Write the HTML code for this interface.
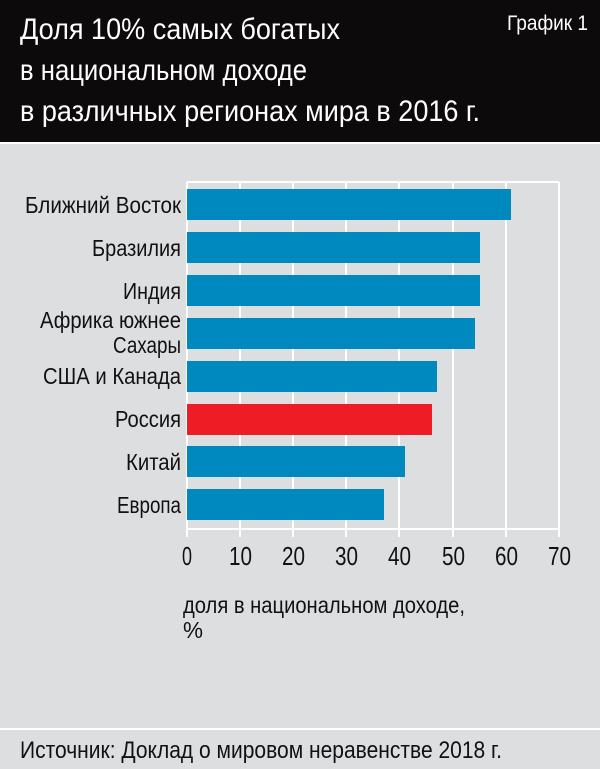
<!DOCTYPE html>
<html><head><meta charset="utf-8"><style>
html,body{margin:0;padding:0;background:#dddee0;}
svg{display:block;}
text{font-family:"Liberation Sans Narrow","Liberation Sans",sans-serif;}
</style></head><body>
<svg width="600" height="769" viewBox="0 0 600 769" xmlns="http://www.w3.org/2000/svg">
<rect x="0" y="0" width="600" height="769" fill="#dddee0"/>
<rect x="0" y="0" width="600" height="142" fill="#0d0a0b"/>
<rect x="0" y="142" width="600" height="2" fill="#ffffff"/>
<g fill="#ffffff" font-size="30">
<text x="20" y="39" textLength="320" lengthAdjust="spacingAndGlyphs">Доля 10% самых богатых</text>
<text x="20" y="80" textLength="287" lengthAdjust="spacingAndGlyphs">в национальном доходе</text>
<text x="20" y="121" textLength="460" lengthAdjust="spacingAndGlyphs">в различных регионах мира в 2016 г.</text>
<text x="507" y="30" font-size="21" textLength="81" lengthAdjust="spacingAndGlyphs">График 1</text>
</g>
<g stroke="#ffffff" stroke-width="2">
<line x1="187" y1="182" x2="559" y2="182"/>
<line x1="187" y1="529" x2="559" y2="529"/>
<line x1="187" y1="182" x2="187" y2="537"/>
<line x1="240" y1="182" x2="240" y2="537"/>
<line x1="293" y1="182" x2="293" y2="537"/>
<line x1="346" y1="182" x2="346" y2="537"/>
<line x1="399" y1="182" x2="399" y2="537"/>
<line x1="453" y1="182" x2="453" y2="537"/>
<line x1="506" y1="182" x2="506" y2="537"/>
<line x1="559" y1="182" x2="559" y2="537"/>
</g>
<g fill="#0089bf">
<rect x="187" y="189" width="324" height="31"/>
<rect x="187" y="232" width="293" height="31"/>
<rect x="187" y="275" width="293" height="31"/>
<rect x="187" y="318" width="288" height="31"/>
<rect x="187" y="361" width="250" height="31"/>
<rect x="187" y="446" width="218" height="31"/>
<rect x="187" y="489" width="197" height="31"/>
</g>
<rect x="187" y="404" width="245" height="31" fill="#ee1c25"/>
<g fill="#111" font-size="23" text-anchor="end">
<text x="181" y="213" textLength="156" lengthAdjust="spacingAndGlyphs">Ближний Восток</text>
<text x="181" y="256" textLength="89" lengthAdjust="spacingAndGlyphs">Бразилия</text>
<text x="181" y="299" textLength="58" lengthAdjust="spacingAndGlyphs">Индия</text>
<text x="181" y="328" textLength="141" lengthAdjust="spacingAndGlyphs">Африка южнее</text>
<text x="181" y="353" textLength="68" lengthAdjust="spacingAndGlyphs">Сахары</text>
<text x="181" y="384" textLength="138" lengthAdjust="spacingAndGlyphs">США и Канада</text>
<text x="181" y="427" textLength="66" lengthAdjust="spacingAndGlyphs">Россия</text>
<text x="181" y="470" textLength="55" lengthAdjust="spacingAndGlyphs">Китай</text>
<text x="181" y="513" textLength="64" lengthAdjust="spacingAndGlyphs">Европа</text>
</g>
<g fill="#111" font-size="26">
<text x="182" y="565" textLength="10" lengthAdjust="spacingAndGlyphs">0</text>
<text x="229" y="565" textLength="23" lengthAdjust="spacingAndGlyphs">10</text>
<text x="282" y="565" textLength="23" lengthAdjust="spacingAndGlyphs">20</text>
<text x="335" y="565" textLength="23" lengthAdjust="spacingAndGlyphs">30</text>
<text x="388" y="565" textLength="23" lengthAdjust="spacingAndGlyphs">40</text>
<text x="442" y="565" textLength="23" lengthAdjust="spacingAndGlyphs">50</text>
<text x="495" y="565" textLength="23" lengthAdjust="spacingAndGlyphs">60</text>
<text x="548" y="565" textLength="23" lengthAdjust="spacingAndGlyphs">70</text>
</g>
<g fill="#111" font-size="23">
<text x="183" y="613" textLength="282" lengthAdjust="spacingAndGlyphs">доля в национальном доходе,</text>
<text x="183" y="638" textLength="20" lengthAdjust="spacingAndGlyphs">%</text>
</g>
<rect x="0" y="728" width="600" height="2" fill="#ffffff"/>
<text x="20" y="758" fill="#111" font-size="24" textLength="482" lengthAdjust="spacingAndGlyphs">Источник: Доклад о мировом неравенстве 2018 г.</text>
</svg>
</body></html>
